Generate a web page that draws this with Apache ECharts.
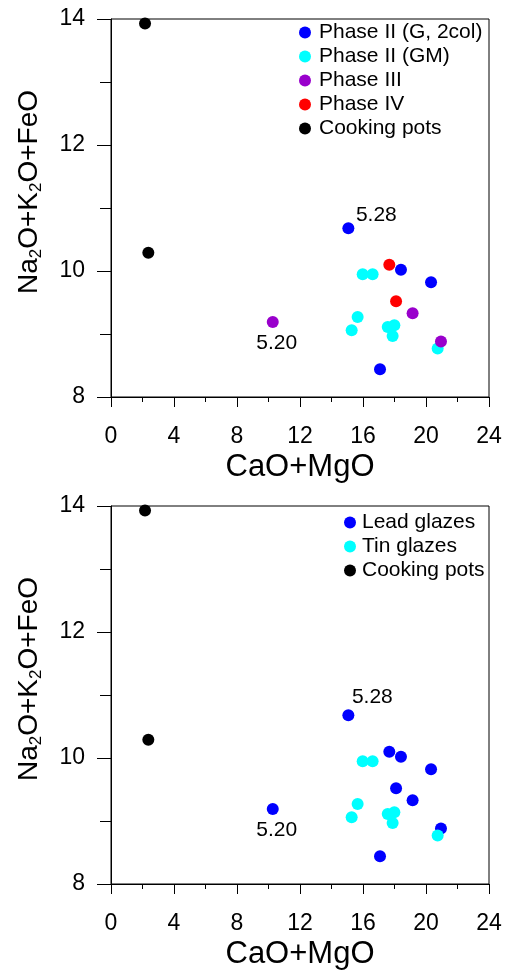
<!DOCTYPE html>
<html>
<head>
<meta charset="utf-8">
<script src="https://cdn.jsdelivr.net/npm/echarts@6/dist/echarts.min.js"></script>
<style>
  html, body { margin: 0; padding: 0; background: #fff; }
  #chart { width: 505px; height: 972px; }
</style>
</head>
<body>
<div id="chart"></div>
<script>
// CaO+MgO vs Na2O+K2O+FeO, [x, y]
var cooking  = [[2.16, 13.93], [2.37, 10.29]];
var phase2G  = [[15.07, 10.68], [18.41, 10.02], [20.32, 9.82], [17.08, 8.44]];
var phase2GM = [[15.98, 9.95], [16.61, 9.95], [15.66, 9.27], [17.57, 9.11],
                [17.99, 9.14], [15.28, 9.06], [17.88, 8.97], [20.74, 8.77]];
var phase3   = [[19.15, 9.33], [10.27, 9.19], [20.95, 8.88]];
var phase4   = [[17.67, 10.10], [18.10, 9.52]];

// sample ids shown next to a few points
var tag528 = phase2G[0];
var tag520 = phase3[1];

var xTicks = [0, 4, 8, 12, 16, 20, 24];
var yTicks = [8, 10, 12, 14];

var font = 'Liberation Sans, Arial, sans-serif';

function pts(arr, idx) {
	return arr.map(function (p) {
		if (p === tag528) {
			var off = idx === 0 ? [28, -13] : [24, -18];
			return { value: p, label: { show: true, formatter: '5.28', position: 'inside', offset: off } };
		}
		if (p === tag520) {
			return { value: p, label: { show: true, formatter: '5.20', position: 'inside', offset: [4, 21] } };
		}
		return p;
	});
}

function xAxis(idx) {
	return {
		gridIndex: idx,
		type: 'value',
		min: xTicks[0],
		max: xTicks[xTicks.length - 1],
		interval: 4,
		name: 'CaO+MgO',
		nameLocation: 'middle',
		nameGap: 55,
		nameTextStyle: { fontSize: 31, color: '#000', fontFamily: font },
		axisLine: { lineStyle: { color: '#000', width: 1 } },
		axisTick: { length: 10, lineStyle: { color: '#000' } },
		minorTick: { show: true, splitNumber: 2, length: 5, lineStyle: { color: '#000' } },
		splitLine: { show: false },
		axisLabel: { fontSize: 23, color: '#000', fontFamily: font, margin: 28 }
	};
}

function yAxis(idx) {
	return {
		gridIndex: idx,
		type: 'value',
		min: yTicks[0],
		max: yTicks[yTicks.length - 1],
		interval: 2,
		name: '{b|Na}{s|2}{b|O+K}{s|2}{b|O+FeO}',
		nameLocation: 'middle',
		nameRotate: 90,
		nameGap: 66,
		nameTextStyle: {
			color: '#000',
			padding: [0, 0, 0, 32],
			rich: {
				b: { fontSize: 28, lineHeight: 32, fontFamily: font, color: '#000' },
				s: { fontSize: 17, lineHeight: 14, fontFamily: font, color: '#000', verticalAlign: 'bottom' }
			}
		},
		axisLine: { lineStyle: { color: '#000', width: 1 } },
		axisTick: { length: 14, lineStyle: { color: '#000' } },
		minorTick: { show: true, splitNumber: 2, length: 11, lineStyle: { color: '#000' } },
		splitLine: { show: false },
		axisLabel: { fontSize: 23, color: '#000', fontFamily: font, margin: 26 }
	};
}

function scatter(name, data, color, idx) {
	return {
		name: name,
		type: 'scatter',
		xAxisIndex: idx,
		yAxisIndex: idx,
		symbolSize: 12,
		data: pts(data, idx),
		itemStyle: { color: color, opacity: 1 },
		label: { color: '#000', fontSize: 21, fontFamily: font },
		emphasis: { disabled: true }
	};
}

var lead = phase2G.concat(phase3, phase4);

var chart = echarts.init(document.getElementById('chart'), null, { renderer: 'canvas' });
chart.setOption({
	backgroundColor: '#fff',
	animation: false,
	textStyle: { fontFamily: font },
	grid: [
		{ left: 111, top: 19, width: 378, height: 378, show: true, borderColor: '#000', borderWidth: 1 },
		{ left: 111, top: 506, width: 378, height: 378, show: true, borderColor: '#000', borderWidth: 1 }
	],
	xAxis: [xAxis(0), xAxis(1)],
	yAxis: [yAxis(0), yAxis(1)],
	legend: [
		{
			data: ['Phase II (G, 2col)', 'Phase II (GM)', 'Phase III', 'Phase IV', 'Cooking pots'],
			orient: 'vertical',
			left: 299,
			top: 22,
			padding: 0,
			itemGap: 3,
			itemWidth: 12,
			itemHeight: 12,
			icon: 'circle',
			selectedMode: false,
			textStyle: { fontSize: 21, color: '#000', fontFamily: font, padding: [0, 0, 0, 3] }
		},
		{
			data: ['Lead glazes', 'Tin glazes', 'Cooking pots '],
			orient: 'vertical',
			left: 344,
			top: 512,
			padding: 0,
			itemGap: 3,
			itemWidth: 12,
			itemHeight: 12,
			icon: 'circle',
			selectedMode: false,
			textStyle: { fontSize: 21, color: '#000', fontFamily: font, padding: [0, 0, 0, 1] }
		}
	],
	series: [
		scatter('Phase II (G, 2col)', phase2G, '#0000ff', 0),
		scatter('Phase II (GM)', phase2GM, '#00ffff', 0),
		scatter('Phase III', phase3, '#9900cc', 0),
		scatter('Phase IV', phase4, '#ff0000', 0),
		scatter('Cooking pots', cooking, '#000000', 0),
		scatter('Lead glazes', lead, '#0000ff', 1),
		scatter('Tin glazes', phase2GM, '#00ffff', 1),
		scatter('Cooking pots ', cooking, '#000000', 1)
	]
});
</script>
</body>
</html>
